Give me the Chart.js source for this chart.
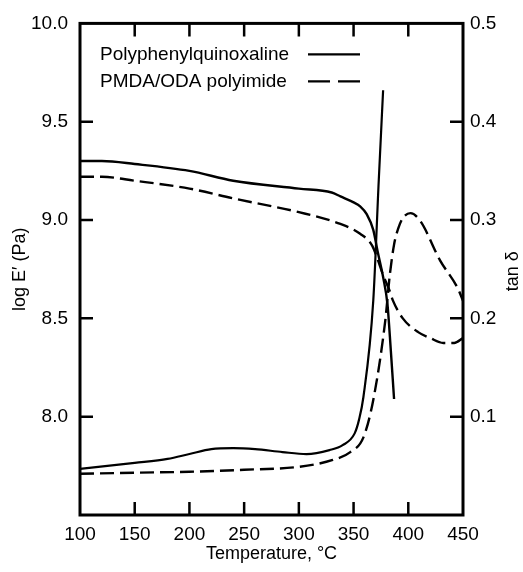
<!DOCTYPE html>
<html><head><meta charset="utf-8">
<script src="https://cdn.jsdelivr.net/npm/chart.js@4/dist/chart.umd.min.js"></script>
<style>html,body{margin:0;padding:0;background:#fff}</style>
</head><body>
<canvas id="c" width="523" height="572" style="display:block;width:523px;height:572px"></canvas>
<script>
// ---- data ----
const temperatureTicks = [100, 150, 200, 250, 300, 350, 400, 450];
const logETicks = [8.0, 8.5, 9.0, 9.5, 10.0];
const tanDeltaTicks = [0.1, 0.2, 0.3, 0.4, 0.5];

const seriesNames = ["Polyphenylquinoxaline", "PMDA/ODA polyimide"];

// Polyphenylquinoxaline, log E'
const ppqModT    = [100, 120, 150, 200, 240, 300, 330, 338, 350, 356, 362, 368, 372, 377, 381, 384, 387];
const ppqModLogE = [9.30, 9.30, 9.285, 9.25, 9.20, 9.16, 9.14, 9.12, 9.09, 9.07, 9.03, 8.95, 8.84, 8.71, 8.57, 8.34, 8.09];

// PMDA/ODA polyimide, log E'
const pmdaModT    = [100, 120, 150, 200, 240, 300, 338, 356, 367, 372, 377, 383, 386, 395, 409, 420, 432, 442, 450];
const pmdaModLogE = [9.22, 9.22, 9.20, 9.16, 9.11, 9.04, 8.98, 8.93, 8.87, 8.80, 8.72, 8.64, 8.59, 8.50, 8.43, 8.40, 8.375, 8.375, 8.40];

// Polyphenylquinoxaline, tan delta
const ppqTanT     = [100, 150, 180, 200, 220, 240, 260, 285, 307, 328, 340, 351, 355, 359, 368, 373, 377];
const ppqTanDelta = [0.047, 0.053, 0.057, 0.062, 0.067, 0.068, 0.067, 0.064, 0.062, 0.066, 0.071, 0.083, 0.097, 0.12, 0.218, 0.34, 0.432];

// PMDA/ODA polyimide, tan delta
const pmdaTanT     = [100, 150, 200, 250, 300, 331, 347, 359, 368, 379, 383, 387, 391, 395, 402, 411, 429, 445, 450];
const pmdaTanDelta = [0.042, 0.043, 0.044, 0.046, 0.049, 0.056, 0.064, 0.079, 0.117, 0.198, 0.243, 0.275, 0.292, 0.302, 0.307, 0.299, 0.259, 0.231, 0.218];

const pts = (xs, ys) => xs.map((x, i) => ({x, y: ys[i]}));
const DASH = [14, 6];
const FONT = "'Liberation Sans', Arial, Helvetica, sans-serif";

const decorPlugin = {
  id: 'decor',
  afterDatasetsDraw(chart) {
    const {ctx, chartArea: a, scales} = chart;
    const x = scales.x, yl = scales.y, yr = scales.y2;
    const L = 13;
    ctx.save();
    ctx.strokeStyle = '#000';
    ctx.lineCap = 'butt';
    // inward tick marks
    ctx.lineWidth = 2.5;
    ctx.beginPath();
    temperatureTicks.slice(1, -1).forEach(t => {
      const px = x.getPixelForValue(t);
      ctx.moveTo(px, a.bottom); ctx.lineTo(px, a.bottom - L);
      ctx.moveTo(px, a.top); ctx.lineTo(px, a.top + L);
    });
    logETicks.slice(0, -1).forEach(v => {
      const py = yl.getPixelForValue(v);
      ctx.moveTo(a.left, py); ctx.lineTo(a.left + L, py);
    });
    tanDeltaTicks.slice(0, -1).forEach(v => {
      const py = yr.getPixelForValue(v);
      ctx.moveTo(a.right, py); ctx.lineTo(a.right - L, py);
    });
    ctx.stroke();
    // frame
    ctx.lineWidth = 3;
    ctx.strokeRect(a.left, a.top, a.right - a.left, a.bottom - a.top);

    // legend (text then line sample)
    ctx.font = "19px " + FONT;
    ctx.fillStyle = '#000';
    ctx.textBaseline = 'middle';
    ctx.textAlign = 'left';
    const legendItems = chart.data.datasets.filter(d => d.inLegend);
    legendItems.forEach((d, i) => {
      const ly = a.top + 31 + i * 27;
      ctx.fillText(d.label, a.left + 20, ly);
      ctx.beginPath();
      ctx.lineWidth = 2.2;
      ctx.setLineDash(d.borderDash ? [22, 8] : []);
      ctx.moveTo(a.left + 228, ly);
      ctx.lineTo(a.left + 280, ly);
      ctx.stroke();
    });
    ctx.setLineDash([]);

    // right axis title, reading bottom to top
    ctx.save();
    ctx.font = "18px " + FONT;
    ctx.translate(chart.width - 10, (a.top + a.bottom) / 2 + 2);
    ctx.rotate(-Math.PI / 2);
    ctx.textAlign = 'center';
    ctx.textBaseline = 'middle';
    ctx.fillText('tan δ', 0, 0);
    ctx.restore();
    ctx.restore();
  }
};

new Chart(document.getElementById('c'), {
  type: 'line',
  data: {
    datasets: [
      {label: seriesNames[0], inLegend: true, data: pts(ppqModT, ppqModLogE), yAxisID: 'y',
       borderColor: '#000', borderWidth: 2.4, pointRadius: 0, cubicInterpolationMode: 'monotone'},
      {label: seriesNames[1], inLegend: true, data: pts(pmdaModT, pmdaModLogE), yAxisID: 'y',
       borderColor: '#000', borderWidth: 2.4, borderDash: DASH, pointRadius: 0, cubicInterpolationMode: 'monotone'},
      {label: seriesNames[0] + ' tan δ', data: pts(ppqTanT, ppqTanDelta), yAxisID: 'y2',
       borderColor: '#000', borderWidth: 2.2, pointRadius: 0, cubicInterpolationMode: 'monotone'},
      {label: seriesNames[1] + ' tan δ', data: pts(pmdaTanT, pmdaTanDelta), yAxisID: 'y2',
       borderColor: '#000', borderWidth: 2.4, borderDash: DASH, pointRadius: 0, cubicInterpolationMode: 'monotone'}
    ]
  },
  options: {
    responsive: false,
    animation: false,
    layout: {padding: {top: 22, left: 0, right: 0, bottom: 0}},
    plugins: {legend: {display: false}, tooltip: {enabled: false}},
    scales: {
      x: {
        type: 'linear', min: 100, max: 450,
        afterBuildTicks: s => { s.ticks = temperatureTicks.map(v => ({value: v})); },
        afterFit: s => { s.height = 57; },
        grid: {display: false, drawTicks: false},
        border: {display: false},
        ticks: {color: '#000', padding: 8, font: {size: 19, family: FONT}, maxRotation: 0,
                callback: v => String(v)},
        title: {display: true, text: 'Temperature, °C', color: '#000',
                font: {size: 18, family: FONT}, padding: {top: 0, bottom: 7}}
      },
      y: {
        type: 'linear', position: 'left', min: 7.5, max: 10.0,
        afterBuildTicks: s => { s.ticks = logETicks.map(v => ({value: v})); },
        afterFit: s => { s.width = 80; },
        grid: {display: false, drawTicks: false},
        border: {display: false},
        ticks: {color: '#000', padding: 12, font: {size: 19, family: FONT},
                callback: v => v.toFixed(1)},
        title: {display: true, text: 'log E′ (Pa)', color: '#000',
                font: {size: 18, family: FONT}, padding: {top: 9, bottom: 0}}
      },
      y2: {
        type: 'linear', position: 'right', min: 0, max: 0.5,
        afterBuildTicks: s => { s.ticks = tanDeltaTicks.map(v => ({value: v})); },
        afterFit: s => { s.width = 60; },
        grid: {display: false, drawTicks: false},
        border: {display: false},
        ticks: {color: '#000', padding: 7, font: {size: 19, family: FONT},
                callback: v => v.toFixed(1)}
      }
    }
  },
  plugins: [decorPlugin]
});
</script>
</body></html>
